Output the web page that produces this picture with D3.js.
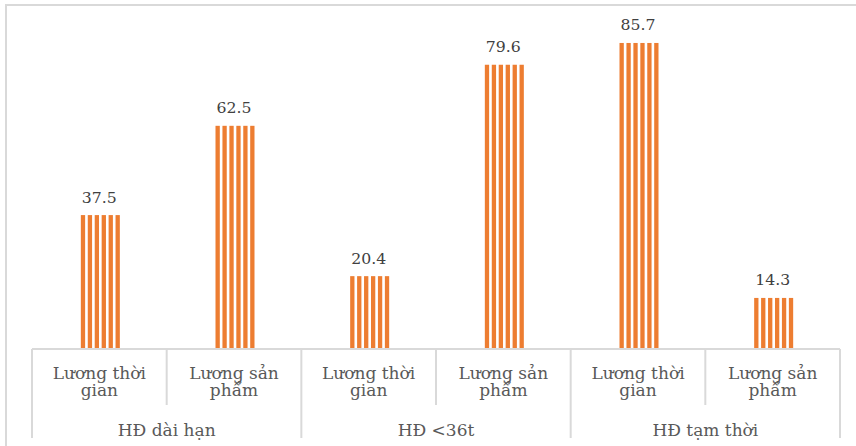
<!DOCTYPE html>
<html>
<head>
<meta charset="utf-8">
<script src="https://cdn.jsdelivr.net/npm/d3@7/dist/d3.min.js"></script>
<style>
  html, body { margin: 0; padding: 0; background: #fff; }
  svg { display: block; }
</style>
</head>
<body>
<script>
// Contract groups and the two pay schemes within each group
const groups = ["HĐ dài hạn", "HĐ <36t", "HĐ tạm thời"];
const payTypes = [["Lương thời", "gian"], ["Lương sản", "phẩm"]];
// Share (%) for each pay scheme, by contract group
const timeWage = [37.5, 20.4, 85.7];
const pieceWage = [62.5, 79.6, 14.3];

const W = 856, H = 446;
const svg = d3.select("body").append("svg").attr("width", W).attr("height", H);

const rows = [];
groups.forEach((g, i) => {
  rows.push({ group: g, sub: payTypes[0], value: timeWage[i], key: g + "|0" });
  rows.push({ group: g, sub: payTypes[1], value: pieceWage[i], key: g + "|1" });
});

const left = 32, right = 840, baseY = 349;
const x = d3.scaleBand().domain(rows.map(d => d.key)).range([left, right]).padding(0);
const y = d3.scaleLinear().domain([0, 90]).range([baseY, baseY - 90 * 3.571]);

const grid = "#d9d9d9";
const orange = "#ED7D31";
const serif = "DejaVu Serif";

// outer chart frame (top and left edges)
svg.append("line").attr("x1", 5).attr("x2", W).attr("y1", 5).attr("y2", 5)
  .attr("stroke", grid).attr("stroke-width", 2);
svg.append("line").attr("x1", 6).attr("x2", 6).attr("y1", 5).attr("y2", H)
  .attr("stroke", grid).attr("stroke-width", 2);

// bars with vertical stripes
const barW = 39, nStripes = 6, stripeW = 4.3;
const period = (barW - stripeW) / (nStripes - 1);
const bars = svg.append("g");
rows.forEach(d => {
  const cx = x(d.key) + x.bandwidth() / 2 + 1;
  const x0 = cx - barW / 2;
  for (let s = 0; s < nStripes; s++) {
    bars.append("rect")
      .attr("x", x0 + s * period)
      .attr("y", y(d.value))
      .attr("width", stripeW)
      .attr("height", y(0) - y(d.value))
      .attr("fill", orange);
  }
});

// value labels
rows.forEach(d => {
  svg.append("text")
    .attr("x", x(d.key) + x.bandwidth() / 2)
    .attr("y", y(d.value) - 12.5)
    .attr("text-anchor", "middle")
    .attr("font-family", serif)
    .attr("font-size", 15.7)
    .attr("fill", "#404040")
    .text(d3.format(".1f")(d.value));
});

// category axis: baseline and separators
const axis = svg.append("g").attr("stroke", grid).attr("stroke-width", 2);
axis.append("line").attr("x1", left).attr("x2", right).attr("y1", baseY).attr("y2", baseY);
rows.forEach((d, i) => {
  const xl = x(d.key);
  axis.append("line").attr("x1", xl).attr("x2", xl).attr("y1", baseY)
    .attr("y2", i % 2 === 0 ? 438 : 405);
});
axis.append("line").attr("x1", right).attr("x2", right).attr("y1", baseY).attr("y2", 438);

// pay scheme labels (two lines each)
rows.forEach(d => {
  const t = svg.append("text")
    .attr("x", x(d.key) + x.bandwidth() / 2)
    .attr("y", 379)
    .attr("text-anchor", "middle")
    .attr("font-family", serif)
    .attr("font-size", 17)
    .attr("fill", "#595959");
  d.sub.forEach((line, j) => {
    t.append("tspan").attr("x", x(d.key) + x.bandwidth() / 2)
      .attr("dy", j === 0 ? 0 : 17).text(line);
  });
});

// contract group labels
groups.forEach(g => {
  svg.append("text")
    .attr("x", x(g + "|0") + x.bandwidth())
    .attr("y", 435.5)
    .attr("text-anchor", "middle")
    .attr("font-family", serif)
    .attr("font-size", 17)
    .attr("fill", "#595959")
    .text(g);
});
</script>
</body>
</html>
